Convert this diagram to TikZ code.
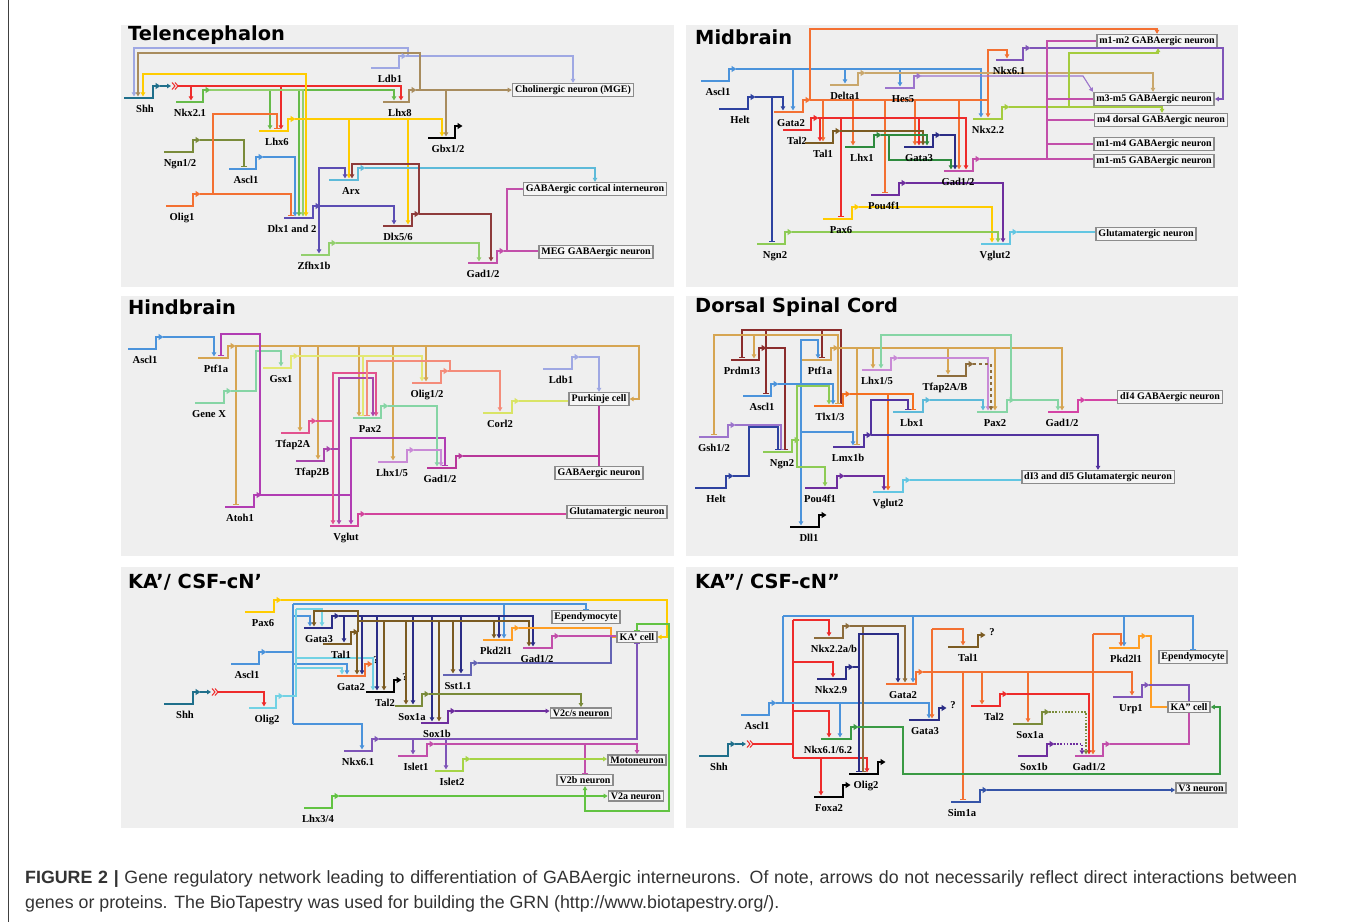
\documentclass[tikz,border=0pt]{standalone}
\usepackage{fontspec}
\setmainfont{Liberation Serif}
\newfontfamily\ttlfam{DejaVu Sans}
\newfontfamily\capfam{Liberation Sans}
\usetikzlibrary{arrows.meta,calc}
\pgfdeclarelayer{fg}
\pgfsetlayers{main,fg}
\definecolor{cTeal}{HTML}{1F6F8B}\definecolor{cRed}{HTML}{EE2B2B}\definecolor{cGreen}{HTML}{66BB4A}
\definecolor{cLav}{HTML}{9FA8E3}\definecolor{cTan}{HTML}{A88C5E}\definecolor{cYel}{HTML}{FFCC00}
\definecolor{cOlive}{HTML}{7A8B3A}\definecolor{cBlue}{HTML}{4B93DB}\definecolor{cOrange}{HTML}{F37032}
\definecolor{cPurp}{HTML}{5B4DB3}\definecolor{cCyan}{HTML}{5DBAD9}\definecolor{cDRed}{HTML}{8E3B3B}
\definecolor{cLGreen}{HTML}{93CF6E}\definecolor{cMag}{HTML}{C24FAA}\definecolor{cNavy2}{HTML}{2E42A0}
\definecolor{cTan2}{HTML}{C9A76C}\definecolor{cLPurp}{HTML}{9C74CC}\definecolor{cBrown}{HTML}{7B5B22}
\definecolor{cDGreen}{HTML}{2E8B3E}\definecolor{cNavy}{HTML}{2B2D86}\definecolor{cPurple}{HTML}{6E2E9E}
\definecolor{cLGreen2}{HTML}{8DCB55}\definecolor{cPurp2}{HTML}{7F55B8}\definecolor{cYGreen}{HTML}{A4CC3E}
\definecolor{cCyan2}{HTML}{62C6E2}\definecolor{cTan3}{HTML}{D6A552}\definecolor{cLYel}{HTML}{E3E873}
\definecolor{cMint}{HTML}{86D5A5}\definecolor{cPink}{HTML}{E2528F}\definecolor{cPM}{HTML}{A845AB}
\definecolor{cLPurp2}{HTML}{C98AD6}\definecolor{cMag2}{HTML}{B13DB3}\definecolor{cPink2}{HTML}{D2449C}
\definecolor{cSalmon}{HTML}{F48C7A}\definecolor{cYG}{HTML}{D9E466}\definecolor{cMag3}{HTML}{B8379A}
\definecolor{cDRed2}{HTML}{8B2C2C}\definecolor{cBrown2}{HTML}{8C6C3C}\definecolor{cOrange2}{HTML}{F57020}
\definecolor{cIndigo}{HTML}{52339F}\definecolor{cMag4}{HTML}{D444A5}\definecolor{cLCyan}{HTML}{72D2E4}
\definecolor{cYGreen2}{HTML}{A6D446}\definecolor{cGreen2}{HTML}{62C342}\definecolor{cSlate}{HTML}{6464B4}
\definecolor{cOrange3}{HTML}{FF9E24}\definecolor{cGreen3}{HTML}{3A9A44}\definecolor{cBlue2}{HTML}{3554A8}
\definecolor{boxgray}{HTML}{8C8C8C}\definecolor{boxfill}{HTML}{F5F5F5}\definecolor{panelc}{HTML}{EFEFEF}
\definecolor{capc}{HTML}{333333}
\newcommand\labf{\bfseries\fontsize{10.6}{11}\selectfont}
\newcommand\boxf{\bfseries\fontsize{10}{11}\selectfont}
\newcommand\ttlf{\ttlfam\bfseries\fontsize{19.4}{21}\selectfont}
\newcommand\capf{\capfam\fontsize{17.8}{20}\selectfont}
\tikzset{
 lk/.style={line width=1.1pt},
 ar/.style={-{Triangle[length=4pt,width=4.5pt]}},
 br/.style={-{Bar[width=6pt,line width=1.1pt]}},
 dots/.style={dash pattern=on 1.6pt off 1.6pt},
 gl/.style={line width=2.6pt,-{Triangle[length=5pt,width=6pt]}},
 lab/.style={font=\labf,inner sep=0pt,anchor=base},
 qm/.style={font=\labf,inner sep=0pt},
 box/.style={draw=boxgray,line width=1.6pt,fill=boxfill,font=\boxf,inner xsep=2.5pt,inner ysep=1.8pt},
 ttl/.style={font=\ttlf,anchor=west,inner sep=0pt},
 captxt/.style={font=\capf,text=capc,anchor=base west,inner sep=0pt}
}
\newcommand\gene[7]{%
 \coordinate (#1-t) at ({(#2+#3)/2},{#4-1.6});
 \coordinate (#1-o) at ({#3+7},{#4-12});
 \begin{pgfonlayer}{fg}
 \draw[gl,color=#5] (#2,#4) -- (#3,#4) -- (#3,{#4-12}) -- ({#3+7.5},{#4-12});
 \node[lab] (#1) at (#7,{#4+14}) {#6};
 \end{pgfonlayer}}
\newcommand\lnk[5][ar]{\draw[lk,#1,color=#2] (#3) -| (#4,0 |- #5-t);}
\newcommand\sig[2]{%
 \draw[lk,color=cTeal,-{Triangle[length=4pt,width=4.5pt]}] (#2) -- ++(11,0) coordinate (#1);
 \draw[color=cRed,line width=1pt] (#1) ++(1,-3.5) -- ++(3,3.5) -- ++(-3,3.5) (#1) ++(4,-3.5) -- ++(3,3.5) -- ++(-3,3.5);
 \coordinate (#1R) at ($(#1)+(7,0)$);}
\begin{document}
\begin{tikzpicture}[x=1pt,y=-1pt]
\useasboundingbox (0,0) rectangle (1357,922);
\fill[white] (0,0) rectangle (1357,922);
\draw[line width=1pt,color=black!75] (8,0) -- (8,922);
\foreach \a/\b/\c/\d in {121/25/674/287,686/25/1238/287,121/296/674/556,686/296/1238/556,121/567/674/828,686/567/1238/828}
  \fill[panelc] (\a,\b) rectangle (\c,\d);
\node[ttl] (t1) at (128,35) {Telencephalon};
\node[ttl] (t2) at (695,37) {Midbrain};
\node[ttl] (t3) at (128,307) {Hindbrain};
\node[ttl] (t4) at (695,307) {Dorsal Spinal Cord};
\node[ttl] (t5) at (128,582) {KA’/ CSF-cN’};
\node[ttl] (t6) at (695,582) {KA”/ CSF-cN”};

% ================= Telencephalon
\node[box] (aChol) at (573,90) {Cholinergic neuron (MGE)};
\node[box] (aGCI) at (595,189) {GABAergic cortical interneuron};
\node[box] (aMEG) at (596,252) {MEG GABAergic neuron};
\gene{aShh}{124}{153}{98}{cTeal}{Shh}{145}
\gene{aNkx}{176}{203}{102}{cGreen}{Nkx2.1}{190}
\gene{aLdb}{371}{399}{68}{cLav}{Ldb1}{390}
\gene{aLhx8}{383}{409}{102}{cTan}{Lhx8}{400}
\gene{aLhx6}{259}{288}{131}{cYel}{Lhx6}{277}
\gene{aNgn}{164}{193}{152}{cOlive}{Ngn1/2}{180}
\gene{aAscl}{229}{256}{169}{cBlue}{Ascl1}{246}
\gene{aOlig}{166}{193}{206}{cOrange}{Olig1}{182}
\gene{aDlx12}{284}{313}{218}{cPurp}{Dlx1 and 2}{292}
\gene{aArx}{329}{358}{180}{cCyan}{Arx}{351}
\gene{aDlx56}{383}{412}{226}{cDRed}{Dlx5/6}{398}
\gene{aZfh}{301}{329}{255}{cLGreen}{Zfhx1b}{314}
\gene{aGbx}{428}{455}{138}{black}{Gbx1/2}{448}
\gene{aGad}{468}{497}{263}{cMag}{Gad1/2}{483}
\sig{aSig}{aShh-o}
\lnk{cRed}{aSigR}{401}{aLhx8}
\lnk{cRed}{aSigR}{191}{aNkx}
\lnk{cRed}{aSigR}{281}{aLhx6}
\draw[lk,ar,cLav] (aLdb-o) -| (aChol.north);
\draw[lk,ar,cLav] (aLdb-o) -| (408,48) -| (134,0 |- aShh-t);
\draw[lk,ar,cTan] (aLhx8-o) -- (aLhx8-o -| aChol.west);
\lnk{cTan}{aLhx8-o}{446}{aGbx}
\draw[lk,ar,cTan] (aLhx8-o) -| (420,53) -| (138,0 |- aShh-t);
\lnk{cGreen}{aNkx-o}{394}{aLhx8}
\lnk{cGreen}{aNkx-o}{270}{aLhx6}
\lnk{cGreen}{aNkx-o}{299}{aDlx12}
\lnk{cLGreen}{aNkx-o}{303}{aDlx12}
\lnk{cYel}{aLhx6-o}{442}{aGbx}
\lnk{cYel}{aLhx6-o}{349}{aArx}
\lnk{cYel}{aLhx6-o}{408}{aDlx56}
\lnk{cYel}{aLhx6-o}{306}{aDlx12}
\draw[lk,ar,cYel] (aLhx6-o) -| (306,74) -| (143,0 |- aShh-t);
\lnk[br]{cOlive}{aNgn-o}{244}{aAscl}
\lnk{cBlue}{aAscl-o}{295}{aDlx12}
\lnk[br]{cOrange}{aOlig-o}{291}{aDlx12}
\draw[lk,br,cOrange] (aOlig-o) -| (213,114) -| (277,0 |- aLhx6-t);
\lnk{cPurp}{aDlx12-o}{394}{aDlx56}
\draw[lk,ar,cPurp] (aDlx12-o) -| (319,168) -| (345,0 |- aArx-t);
\lnk{cPurp}{aDlx12-o}{319}{aZfh}
\draw[lk,ar,cCyan] (aArx-o) -| (aGCI.north);
\lnk{cDRed}{aDlx56-o}{491}{aGad}
\draw[lk,ar,cDRed] (aDlx56-o) -| (419,164) -| (352,0 |- aArx-t);
\lnk{cLGreen}{aZfh-o}{479}{aGad}
\draw[lk,cMag] (aGad-o) -- (aGad-o -| aMEG.west);
\draw[lk,cMag] (aGad-o) -- ++(3,0) |- (aGCI.west);

% ================= Midbrain
\node[box] (bM12) at (1157,41) {m1-m2 GABAergic neuron};
\node[box] (bM35) at (1154,99) {m3-m5 GABAergic neuron};
\node[box] (bM4d) at (1161,120) {m4 dorsal GABAergic neuron};
\node[box] (bM14) at (1154,144) {m1-m4 GABAergic neuron};
\node[box] (bM15) at (1154,161) {m1-m5 GABAergic neuron};
\node[box] (bGlu) at (1146,234) {Glutamatergic neuron};
\gene{bAscl}{701}{729}{81}{cBlue}{Ascl1}{718}
\gene{bHelt}{719}{748}{109}{cNavy2}{Helt}{740}
\gene{bDelta}{830}{858}{85}{cTan2}{Delta1}{845}
\gene{bHes}{885}{914}{88}{cLPurp}{Hes5}{903}
\gene{bGata2}{774}{803}{112}{cOrange}{Gata2}{791}
\gene{bTal2}{783}{811}{130}{cRed}{Tal2}{797}
\gene{bTal1}{805}{833}{143}{cBrown}{Tal1}{823}
\gene{bLhx1}{845}{874}{147}{cDGreen}{Lhx1}{862}
\gene{bGata3}{904}{933}{147}{cNavy}{Gata3}{919}
\gene{bGad}{944}{973}{171}{cMag}{Gad1/2}{958}
\gene{bPou}{871}{899}{195}{cPurple}{Pou4f1}{884}
\gene{bPax6}{823}{852}{219}{cYel}{Pax6}{841}
\gene{bNgn}{757}{785}{244}{cLGreen2}{Ngn2}{775}
\gene{bNkx61}{996}{1023}{60}{cPurp2}{Nkx6.1}{1009}
\gene{bNkx22}{973}{1002}{119}{cYGreen}{Nkx2.2}{988}
\gene{bVglut}{981}{1010}{244}{cCyan2}{Vglut2}{995}
\lnk{cBlue}{bAscl-o}{981}{bNkx22}
\lnk{cBlue}{bAscl-o}{793}{bGata2}
\lnk{cBlue}{bAscl-o}{845}{bDelta}
\lnk{cBlue}{bAscl-o}{900}{bHes}
\lnk{cNavy2}{bHelt-o}{783}{bGata2}
\lnk[br]{cNavy2}{bHelt-o}{772}{bNgn}
\draw[lk,ar,cOrange] (bGata2-o) -| (810,29) -| (bM12.north);
\lnk{cOrange}{bGata2-o}{988}{bNkx22}
\draw[lk,ar,cOrange] (bGata2-o) -| (988,50) -| (1007,0 |- bNkx61-t);
\lnk{cOrange}{bGata2-o}{823}{bTal1}
\lnk{cOrange}{bGata2-o}{853}{bLhx1}
\lnk[br]{cOrange}{bGata2-o}{885}{bPou}
\lnk{cOrange}{bGata2-o}{915}{bGata3}
\lnk{cOrange}{bGata2-o}{959}{bGad}
\lnk{cRed}{bTal2-o}{966}{bGad}
\lnk{cRed}{bTal2-o}{820}{bTal1}
\lnk{cRed}{bTal2-o}{919}{bGata3}
\lnk[br]{cRed}{bTal2-o}{841}{bPax6}
\lnk{cBrown}{bTal1-o}{923}{bGata3}
\lnk{cDGreen}{bLhx1-o}{927}{bGata3}
\draw[lk,ar,cDGreen] (bLhx1-o) -| (889,160) -| (951,0 |- bGad-t);
\lnk{cNavy}{bGata3-o}{955}{bGad}
\draw[lk,ar,cLPurp] (bHes-o) -- (1083,0 |- bHes-o) -- (bM35.north west);
\draw[lk,ar,cTan2] (bDelta-o) -| (1153,0 |- bM35.north);
\draw[lk,ar,cPurp2] (bNkx61-o) -| (1223,0 |- bM35.east) -- (bM35.east);
\draw[lk,ar,cYGreen] (bNkx22-o) -| (1162,0 |- bM4d.north);
\draw[lk,ar,cYGreen] (bNkx22-o) -| (1069,53) -| (1158,0 |- bM12.south);
\draw[lk,cMag] (bGad-o) -- (bGad-o -| bM15.west);
\draw[lk,cMag] (1047,0 |- bGad-o) -- (1047,0 |- bM12.west) -- (bM12.west);
\draw[lk,cMag] (1047,0 |- bM35.west) -- (bM35.west);
\draw[lk,cMag] (1047,0 |- bM4d.west) -- (bM4d.west);
\draw[lk,cMag] (1047,0 |- bM14.west) -- (bM14.west);
\lnk{cPurple}{bPou-o}{1003}{bVglut}
\lnk{cYel}{bPax6-o}{992}{bVglut}
\lnk{cLGreen2}{bNgn-o}{998}{bVglut}
\draw[lk,cCyan2] (bVglut-o) -- (bVglut-o -| bGlu.west);

% ================= Hindbrain
\node[box] (cPurk) at (599,399) {Purkinje cell};
\node[box] (cGABA) at (599,473) {GABAergic neuron};
\node[box] (cGlu) at (617,512) {Glutamatergic neuron};
\gene{cAscl}{128}{156}{349}{cBlue}{Ascl1}{145}
\gene{cPtf}{198}{228}{358}{cTan3}{Ptf1a}{216}
\gene{cGsx}{263}{291}{368}{cLYel}{Gsx1}{281}
\gene{cGX}{195}{224}{403}{cMint}{Gene X}{209}
\gene{cT2A}{281}{309}{433}{cPink}{Tfap2A}{293}
\gene{cT2B}{296}{324}{461}{cPM}{Tfap2B}{312}
\gene{cPax2}{353}{381}{418}{cMint}{Pax2}{370}
\gene{cLhx15}{378}{407}{462}{cLPurp2}{Lhx1/5}{392}
\gene{cAtoh}{225}{254}{507}{cMag2}{Atoh1}{240}
\gene{cVglut}{330}{358}{526}{cPink2}{Vglut}{346}
\gene{cOlig}{412}{441}{383}{cSalmon}{Olig1/2}{427}
\gene{cCorl}{483}{512}{413}{cYG}{Corl2}{500}
\gene{cLdb}{543}{572}{369}{cLav}{Ldb1}{561}
\gene{cGad}{427}{456}{468}{cMag3}{Gad1/2}{440}
\lnk{cBlue}{cAscl-o}{214}{cPtf}
\draw[lk,ar,cTan3] (cPtf-o) -| (639,0 |- cPurk.east) -- (cPurk.east);
\lnk[br]{cTan3}{cPtf-o}{236}{cAtoh}
\lnk{cTan3}{cPtf-o}{300}{cT2A}
\lnk{cTan3}{cPtf-o}{318}{cT2B}
\lnk{cTan3}{cPtf-o}{359}{cPax2}
\lnk{cTan3}{cPtf-o}{393}{cLhx15}
\lnk{cTan3}{cPtf-o}{426}{cOlig}
\lnk{cLYel}{cGsx-o}{422}{cOlig}
\lnk[br]{cLYel}{cGsx-o}{363}{cPax2}
\draw[lk,ar,cMint] (cGX-o) -| (256,351) -| (281,0 |- cGsx-t);
\lnk{cMag2}{cAtoh-o}{351}{cVglut}
\draw[lk,br,cMag2] (cAtoh-o) -| (260,334) -| (221,0 |- cPtf-t);
\draw[lk,br,cMag2] (351,0 |- cAtoh-o) |- (445,438) -- (445,0 |- cGad-t);
\lnk{cPink}{cT2A-o}{333}{cVglut}
\draw[lk,ar,cPink] (cT2A-o) -| (333,373) -| (376,0 |- cPax2-t);
\lnk{cPM}{cT2B-o}{339}{cVglut}
\draw[lk,ar,cPM] (cT2B-o) -| (339,378) -| (373,0 |- cPax2-t);
\lnk{cSalmon}{cOlig-o}{500}{cCorl}
\draw[lk,br,cSalmon] (cOlig-o) -| (450,361) -| (367,0 |- cPax2-t);
\lnk{cMint}{cPax2-o}{437}{cGad}
\lnk{cLPurp2}{cLhx15-o}{441}{cGad}
\draw[lk,ar,cLav] (cLdb-o) -| (cPurk.north);
\draw[lk,cYG] (cCorl-o) -- (cCorl-o -| cPurk.west);
\draw[lk,cMag3] (cGad-o) -| (cPurk.south);
\draw[lk,cMag3] (cPurk.south) -- (cGABA.north);
\draw[lk,cPink2] (cVglut-o) -- (cVglut-o -| cGlu.west);

% ================= Dorsal spinal cord
\node[box] (dI4) at (1170,397) {dI4 GABAergic neuron};
\node[box] (dI35) at (1098,477) {dI3 and dI5 Glutamatergic neuron};
\gene{dPrdm}{731}{759}{360}{cDRed2}{Prdm13}{742}
\gene{dPtf}{802}{831}{360}{cTan3}{Ptf1a}{820}
\gene{dLhx15}{862}{891}{370}{cLPurp2}{Lhx1/5}{877}
\gene{dTfap}{937}{966}{376}{cBrown2}{Tfap2A/B}{945}
\gene{dAscl}{743}{771}{396}{cBlue}{Ascl1}{762}
\gene{dTlx}{814}{843}{406}{cOrange2}{Tlx1/3}{830}
\gene{dLbx}{893}{923}{412}{cCyan}{Lbx1}{912}
\gene{dGsh}{699}{728}{437}{cLPurp}{Gsh1/2}{714}
\gene{dNgn}{763}{792}{452}{cLGreen2}{Ngn2}{782}
\gene{dLmx}{833}{864}{447}{cIndigo}{Lmx1b}{848}
\gene{dHelt}{695}{726}{488}{cNavy2}{Helt}{716}
\gene{dPou}{805}{837}{488}{cPurple}{Pou4f1}{820}
\gene{dVglut}{873}{903}{492}{cCyan2}{Vglut2}{888}
\gene{dDll}{790}{819}{527}{black}{Dll1}{809}
\gene{dPax2}{977}{1007}{412}{cMint}{Pax2}{995}
\gene{dGad}{1048}{1078}{412}{cMag4}{Gad1/2}{1062}
\lnk[br]{cDRed2}{dPrdm-o}{785}{dNgn}
\draw[lk,br,cDRed2] (dPrdm-o) -| (766,330) -| (742,0 |- dPrdm-t);
\draw[lk,br,cDRed2] (766,330) -| (822,0 |- dPtf-t);
\draw[lk,br,cDRed2] (766,330) -| (841,0 |- dTlx-t);
\draw[lk,br,cDRed2] (766,330) -- (766,0 |- dAscl-t);
\lnk{cTan3}{dPtf-o}{1062}{dGad}
\lnk[br]{cTan3}{dPtf-o}{857}{dLmx}
\lnk{cTan3}{dPtf-o}{873}{dLhx15}
\lnk{cTan3}{dPtf-o}{948}{dTfap}
\lnk{cTan3}{dPtf-o}{995}{dPax2}
\lnk[br]{cTan3}{dPtf-o}{838}{dTlx}
\draw[lk,ar,cTan3] (dPtf-o) -| (838,335) -| (754,0 |- dPrdm-t);
\draw[lk,br,cTan3] (754,335) -| (714,0 |- dGsh-t);
\lnk{cBlue}{dAscl-o}{833}{dTlx}
\draw[lk,ar,cBlue] (dAscl-o) -| (801,340) -| (818,0 |- dPtf-t);
\draw[lk,ar,cBlue] (801,340) -- (801,0 |- dDll-t);
\draw[lk,ar,cBlue] (801,432) -| (853,0 |- dLmx-t);
\draw[lk,ar,cLGreen2] (dNgn-o) -| (797,386) -| (829,0 |- dTlx-t);
\draw[lk,ar,cLGreen2] (dNgn-o) -| (797,467) -| (825,0 |- dPou-t);
\lnk[br]{cLPurp}{dGsh-o}{781}{dNgn}
\draw[lk,br,cNavy2] (dHelt-o) -| (749,427) -| (778,0 |- dNgn-t);
\lnk[br]{cOrange2}{dTlx-o}{913}{dLbx}
\lnk{cOrange2}{dTlx-o}{888}{dVglut}
\lnk{cLPurp2}{dLhx15-o}{988}{dPax2}
\lnk[ar,dashed]{cBrown2}{dTfap-o}{991}{dPax2}
\draw[lk,ar,cMint] (dPax2-o) -| (1011,335) -| (881,0 |- dLhx15-t);
\lnk{cMint}{dPax2-o}{1058}{dGad}
\lnk{cCyan}{dLbx-o}{983}{dPax2}
\draw[lk,ar,cIndigo] (dLmx-o) -| (dI35.north);
\draw[lk,br,cIndigo] (dLmx-o) -| (871,400) -| (908,0 |- dLbx-t);
\lnk{cPurple}{dPou-o}{884}{dVglut}
\draw[lk,cCyan2] (dVglut-o) -- (dVglut-o -| dI35.west);
\draw[lk,cMag4] (dGad-o) -- (dGad-o -| dI4.west);

% ================= KA' / CSF-cN'
\node[box] (eEpen) at (586,617) {Ependymocyte};
\node[box] (eKA) at (637,637) {KA' cell};
\node[box] (eV2cs) at (581,713) {V2c/s neuron};
\node[box] (eMoto) at (637,760) {Motoneuron};
\node[box] (eV2b) at (585,780) {V2b neuron};
\node[box] (eV2a) at (636,796) {V2a neuron};
\gene{ePax6}{245}{274}{612}{cYel}{Pax6}{263}
\gene{eGata3}{304}{332}{628}{cNavy}{Gata3}{319}
\gene{eTal1}{323}{351}{644}{cBrown}{Tal1}{341}
\gene{eAscl}{231}{259}{664}{cBlue}{Ascl1}{247}
\gene{eGata2}{337}{365}{676}{cOrange}{Gata2}{351}
\gene{eTal2}{366}{394}{692}{black}{Tal2}{385}
\gene{eShh}{164}{193}{704}{cTeal}{Shh}{185}
\gene{eOlig}{249}{276}{708}{cLCyan}{Olig2}{267}
\gene{eSox1a}{395}{422}{706}{cOlive}{Sox1a}{412}
\gene{eSox1b}{421}{448}{723}{cPurple}{Sox1b}{437}
\gene{eNkx}{344}{372}{751}{cPurp2}{Nkx6.1}{358}
\gene{eIsl1}{398}{427}{756}{cMag}{Islet1}{416}
\gene{eIsl2}{435}{463}{771}{cYGreen2}{Islet2}{452}
\gene{eLhx}{304}{332}{808}{cGreen2}{Lhx3/4}{318}
\gene{eSst}{443}{471}{675}{cSlate}{Sst1.1}{458}
\gene{ePkd}{483}{512}{640}{cOrange3}{Pkd2l1}{496}
\gene{eGad}{523}{552}{648}{cMag}{Gad1/2}{537}
\node[qm] (eQ1) at (376,660) {?};
\node[qm] (eQ2) at (405,677) {?};
\draw[lk,ar,cYel] (ePax6-o) -| (667,0 |- eKA.east) -- (eKA.east);
\sig{eSig}{eShh-o}
\lnk{cRed}{eSigR}{264}{eOlig}
\draw[lk,cBlue] (eAscl-o) -| (293,604);
\draw[lk,cBlue] (293,604) -- (293,724);
\draw[lk,br,cBlue] (293,604) -| (eEpen.north);
\lnk{cBlue}{293,604}{504}{ePkd}
\lnk{cBlue}{293,616}{310}{eGata3}
\lnk{cBlue}{293,664}{347}{eGata2}
\lnk{cBlue}{293,724}{362}{eNkx}
\draw[lk,cLCyan] (eOlig-o) -| (296,609);
\lnk{cLCyan}{296,609}{322}{eGata3}
\lnk{cLCyan}{296,658}{373}{eTal2}
\lnk{cLCyan}{296,668}{342}{eGata2}
\lnk{cNavy}{eGata3-o}{533}{eGad}
\lnk{cNavy}{eGata3-o}{344}{eTal1}
\lnk{cNavy}{eGata3-o}{362}{eGata2}
\lnk{cNavy}{eGata3-o}{377}{eTal2}
\lnk{cNavy}{eGata3-o}{413}{eSox1a}
\lnk{cNavy}{eGata3-o}{432}{eSox1b}
\lnk{cNavy}{eGata3-o}{461}{eSst}
\lnk{cNavy}{eGata3-o}{499}{ePkd}
\draw[lk,ar,cBrown] (eTal1-o) -| (358,611) -| (314,0 |- eGata3-t);
\lnk{cBrown}{eTal1-o}{357}{eGata2}
\draw[lk,cBrown] (358,621) -- (530,621);
\lnk{cBrown}{358,621}{384}{eTal2}
\lnk{cBrown}{358,621}{406}{eSox1a}
\lnk{cBrown}{358,621}{439}{eSox1b}
\lnk{cBrown}{358,621}{453}{eSst}
\lnk{cBrown}{358,621}{494}{ePkd}
\lnk{cBrown}{358,621}{529}{eGad}
\draw[lk,cOrange3] (ePkd-o) -| (611,0 |- eKA.west) -- (eKA.west);
\draw[lk,cMag] (eGad-o) -- (eGad-o -| eKA.west);
\draw[lk,cSlate] (eSst-o) -| (611,0 |- eKA.west);
\draw[lk,ar,cOlive] (eSox1a-o) -| (eV2cs.north);
\draw[lk,ar,cPurple] (eSox1b-o) -- (eSox1b-o -| eV2cs.west);
\draw[lk,br,cPurp2] (eNkx-o) -| (eKA.south);
\lnk{cPurp2}{eNkx-o}{413}{eIsl1}
\lnk{cPurp2}{eNkx-o}{446}{eIsl2}
\draw[lk,ar,cMag] (eIsl1-o) -| (eMoto.north);
\draw[lk,br,cMag] (585,0 |- eIsl1-o) -- (eV2b.north);
\draw[lk,ar,cYGreen2] (eIsl2-o) -- (eIsl2-o -| eMoto.west);
\draw[lk,ar,cGreen2] (eLhx-o) -- (eLhx-o -| eV2a.west);
\draw[lk,ar,cGreen2] (585,0 |- eLhx-o) -- (eV2b.south);
\draw[lk,br,cGreen2] (585,0 |- eLhx-o) -- (585,811) -| (669,624) -| (eKA.north);

% ================= KA'' / CSF-cN''
\node[box] (fEpen) at (1193,657) {Ependymocyte};
\node[box] (fKA) at (1189,707) {KA" cell};
\node[box] (fV3) at (1201,788) {V3 neuron};
\gene{fNkx22}{814}{843}{638}{cBrown2}{Nkx2.2a/b}{834}
\gene{fNkx29}{817}{846}{679}{cNavy}{Nkx2.9}{831}
\gene{fGata2}{886}{916}{684}{cOrange}{Gata2}{903}
\gene{fTal1}{948}{978}{647}{cBrown}{Tal1}{968}
\gene{fAscl}{741}{769}{715}{cBlue}{Ascl1}{757}
\gene{fGata3}{909}{939}{720}{cNavy}{Gata3}{925}
\gene{fNkx61}{821}{851}{739}{cGreen3}{Nkx6.1/6.2}{828}
\gene{fShh}{699}{728}{756}{cTeal}{Shh}{719}
\gene{fOlig}{849}{878}{774}{black}{Olig2}{866}
\gene{fFoxa}{814}{843}{797}{black}{Foxa2}{829}
\gene{fSim}{951}{980}{802}{cBlue2}{Sim1a}{962}
\gene{fPkd}{1109}{1139}{648}{cOrange3}{Pkd2l1}{1126}
\gene{fTal2}{971}{1000}{706}{cRed}{Tal2}{994}
\gene{fUrp}{1113}{1142}{697}{cPurp2}{Urp1}{1131}
\gene{fSox1a}{1013}{1042}{724}{cOlive}{Sox1a}{1030}
\gene{fSox1b}{1018}{1047}{756}{cPurple}{Sox1b}{1034}
\gene{fGad}{1075}{1103}{756}{cMag}{Gad1/2}{1089}
\node[qm] (fQ1) at (992,632) {?};
\node[qm] (fQ2) at (953,705) {?};
\sig{fSig}{fShh-o}
\draw[lk,cRed] (fSigR) -- (793,0 |- fSigR);
\draw[lk,cRed] (793,620) -- (793,758);
\lnk{cRed}{793,620}{829}{fNkx22}
\lnk{cRed}{793,662}{833}{fNkx29}
\lnk{cRed}{793,711}{829}{fNkx61}
\lnk{cRed}{793,758}{867}{fOlig}
\lnk{cRed}{821,758}{821}{fFoxa}
\lnk{cBlue}{fAscl-o}{929}{fGata3}
\lnk{cBlue}{fAscl-o}{840}{fNkx61}
\draw[lk,cBlue] (fAscl-o) -| (783,616);
\draw[lk,br,cBlue] (783,616) -| (fEpen.north);
\lnk{cBlue}{783,616}{913}{fGata2}
\lnk{cBlue}{783,616}{1124}{fPkd}
\lnk{cBrown2}{fNkx22-o}{905}{fGata2}
\lnk[br]{cBrown2}{fNkx22-o}{863}{fOlig}
\draw[lk,br,cNavy] (fNkx29-o) -| (859,0 |- fOlig-t);
\draw[lk,ar,cNavy] (fNkx29-o) -| (859,634) -| (898,0 |- fGata2-t);
\lnk{cOrange}{fGata2-o}{1132}{fUrp}
\lnk{cOrange}{fGata2-o}{982}{fTal2}
\lnk{cOrange}{fGata2-o}{1028}{fSox1a}
\lnk[br]{cOrange}{fGata2-o}{963}{fSim}
\lnk{cOrange}{932,629}{932}{fGata3}
\lnk{cOrange}{932,629}{963}{fTal1}
\lnk{cOrange}{1093,634}{1093}{fGad}
\lnk{cOrange}{1093,634}{1121}{fPkd}
\lnk{cRed}{fTal2-o}{1089}{fGad}
\draw[lk,cOrange3] (fPkd-o) -| (1151,0 |- fKA.west) -- (fKA.west);
\draw[lk,cPurp2] (fUrp-o) -| (fKA.north);
\draw[lk,cMag] (fGad-o) -| (fKA.south);
\lnk[ar,dots]{cOlive}{fSox1a-o}{1086}{fGad}
\lnk[ar,dots]{cPurple}{fSox1b-o}{1082}{fGad}
\draw[lk,ar,cGreen3] (fNkx61-o) -| (903,774) -| (1220,0 |- fKA.east) -- (fKA.east);
\draw[lk,ar,cBlue2] (fSim-o) -- (fSim-o -| fV3.west);

% ================= Caption
\node[captxt] (cap1) at (25,883) {\makebox[1272pt][s]{\textbf{FIGURE 2 |} Gene regulatory network leading to differentiation of GABAergic interneurons. Of note, arrows do not necessarily reflect direct interactions between}};
\node[captxt] (cap2) at (25,908) {genes or proteins. The BioTapestry was used for building the GRN (http://www.biotapestry.org/).};
\end{tikzpicture}
\end{document}
